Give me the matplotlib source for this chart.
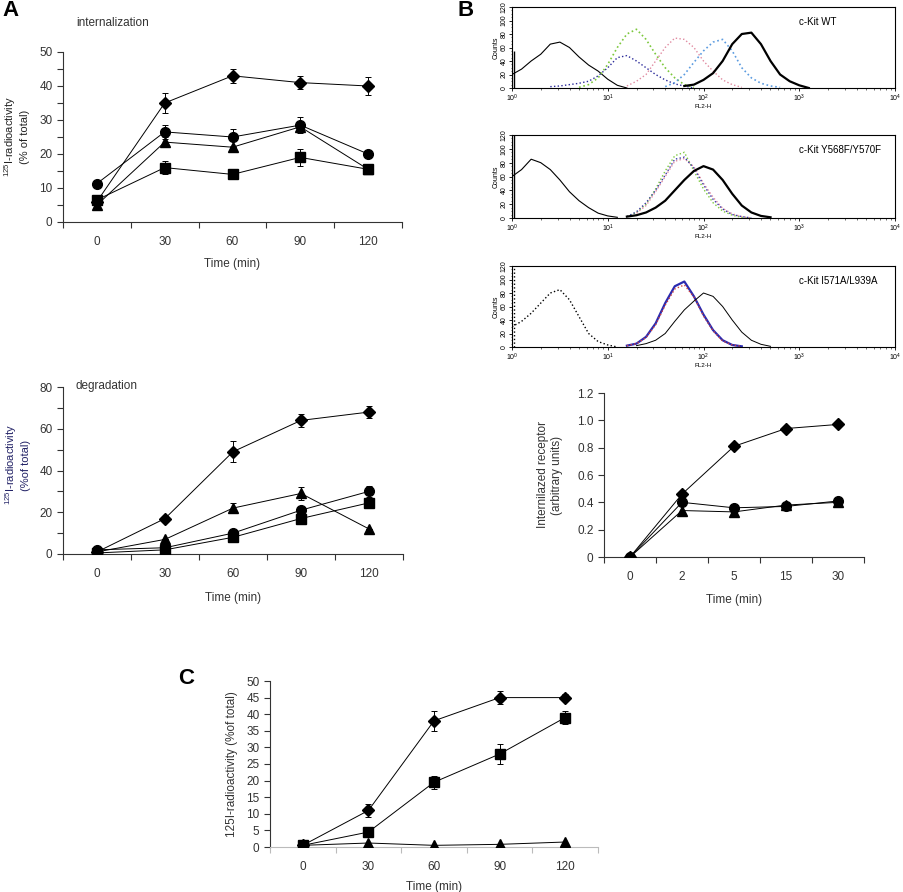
import numpy as np
import matplotlib.pyplot as plt

plt.rcParams['font.family'] = ['Liberation Sans', 'DejaVu Sans']
plt.rcParams['mathtext.default'] = 'regular'

# ---- panel A: internalization / degradation (% of total) ----
time_labels = ['0', '30', '60', '90', '120']

int_diamond = [6, 35, 43, 41, 40]
int_diamond_err = [0, 3, 2, 2, 2.7]
int_circle = [11.3, 26.5, 25, 28.5, 20]
int_circle_err = [0, 2, 2.5, 2.3, 0]
int_triangle = [5, 23.5, 22, 28, 15.5]
int_triangle_err = [0, 1.5, 0, 1.5, 0]
int_square = [6.5, 16, 14, 19, 15.5]
int_square_err = [1.5, 2, 0, 2.5, 1.5]

deg_diamond = [1, 17, 49, 64, 68]
deg_diamond_err = [0, 0, 5, 3, 3]
deg_triangle = [1, 7, 22, 29, 12]
deg_triangle_err = [0, 0, 2.5, 3, 0]
deg_circle = [2, 3, 10, 21, 30]
deg_circle_err = [0, 0, 0, 0, 2.5]
deg_square = [0.5, 2, 8, 17, 24.5]
deg_square_err = [0, 0, 0, 0, 2]

# ---- panel B: internalized receptor ----
b_time_labels = ['0', '2', '5', '15', '30']
b_diamond = [0, 0.46, 0.81, 0.94, 0.97]
b_circle = [0, 0.40, 0.36, 0.37, 0.41]
b_triangle = [0, 0.34, 0.33, 0.38, 0.40]

# ---- panel C ----
c_diamond = [0.5, 11, 38, 45, 45]
c_diamond_err = [0, 2, 3, 2, 1]
c_square = [0.5, 4.5, 19.5, 28, 39]
c_square_err = [0, 0, 2, 3, 2]
c_triangle = [0.5, 1.2, 0.5, 0.8, 1.5]

# ---- panel B flow histograms: counts read every 0.1 decade from start ----
wt_iso = (0.0, [20, 28, 40, 50, 65, 68, 60, 46, 34, 25, 13, 4, 0])
wt_dblue = (0.4, [2, 3, 5, 7, 10, 18, 30, 45, 48, 40, 30, 20, 12, 6, 3, 0])
wt_green = (0.7, [1, 5, 15, 35, 60, 80, 87, 72, 50, 30, 15, 5, 1])
wt_pink = (1.2, [3, 10, 20, 40, 60, 74, 72, 60, 40, 25, 12, 5, 1])
wt_lblue = (1.6, [2, 8, 20, 38, 55, 68, 72, 55, 30, 15, 7, 3, 1])
wt_main = (1.8, [3, 5, 12, 22, 40, 65, 80, 82, 65, 40, 20, 10, 4, 0])
wt_spike = 55

y5_iso = (0.0, [60, 70, 85, 80, 70, 55, 38, 25, 15, 7, 3, 1])
y5_green = (1.2, [2, 8, 20, 42, 68, 90, 95, 68, 42, 22, 10, 4, 1, 0])
y5_blue = (1.2, [2, 9, 22, 40, 62, 85, 88, 72, 48, 27, 13, 5, 2, 0])
y5_pink = (1.3, [7, 18, 38, 60, 82, 86, 74, 50, 30, 14, 6, 2, 0])
y5_main = (1.2, [2, 4, 8, 15, 25, 40, 55, 68, 75, 70, 55, 35, 18, 8, 3, 1])
y5_spike = 120

i5_iso = (0.0, [30, 38, 50, 65, 80, 85, 70, 45, 20, 8, 3, 0])
i5_blue = (1.2, [2, 5, 15, 35, 65, 90, 97, 75, 48, 25, 10, 3, 1])
i5_red = (1.2, [2, 5, 14, 33, 62, 86, 92, 74, 46, 24, 9, 3, 1])
i5_main = (1.3, [2, 5, 10, 20, 38, 55, 68, 80, 75, 60, 40, 22, 10, 4, 1])
i5_spike = 118

fig = plt.figure(figsize=(9.04, 8.92), dpi=100)
W, H = 904, 892


def add_ax(left, top, right, bottom):
    return fig.add_axes([left / W, 1 - bottom / H, (right - left) / W, (bottom - top) / H])


def category_axis(ax, labels, ymax, ymajor, yminor=None, yfmt=None):
    n = len(labels)
    ax.set_xlim(-0.5, n - 0.5)
    ax.set_ylim(0, ymax)
    ax.spines['top'].set_visible(False)
    ax.spines['right'].set_visible(False)
    for s in ['left', 'bottom']:
        ax.spines[s].set_linewidth(0.8)
        ax.spines[s].set_color('#333333')
    ax.set_xticks(np.arange(-0.5, n, 1.0))
    ax.set_xticklabels([])
    ax.set_xticks(np.arange(n), minor=True)
    ax.set_xticklabels(labels, minor=True)
    ax.tick_params(axis='x', which='major', direction='out', length=4, width=0.8, color='#333333')
    ax.tick_params(axis='x', which='minor', length=0, pad=10, labelsize=8.5, labelcolor='#333333')
    yt = np.arange(0, ymax + 1e-9, ymajor)
    ax.set_yticks(yt)
    if yfmt is not None:
        ax.set_yticklabels([yfmt(v) for v in yt])
    if yminor is not None:
        ax.set_yticks(np.arange(0, ymax + 1e-9, yminor), minor=True)
    ax.tick_params(axis='y', which='both', direction='out', length=4, width=0.8,
                   color='#333333', labelsize=8.5, labelcolor='#333333')


def series(ax, y, marker, ms, err=None):
    x = np.arange(len(y))
    ax.plot(x, y, color='black', lw=0.7, marker=marker, ms=ms, mfc='black', mec='black', zorder=3)
    if err is not None:
        ax.errorbar(x, y, yerr=err, fmt='none', ecolor='black', elinewidth=0.7, capsize=2.5,
                    capthick=0.7, zorder=2)


# ---------- A top ----------
ax1 = add_ax(63, 52, 402, 222)
category_axis(ax1, time_labels, 50, 10, 5)
series(ax1, int_diamond, 'D', 6, int_diamond_err)
series(ax1, int_circle, 'o', 7, int_circle_err)
series(ax1, int_triangle, '^', 7, int_triangle_err)
series(ax1, int_square, 's', 6.5, int_square_err)
fig.text(16 / W, 1 - 137 / H, '$^{125}$I-radioactivity\n(% of total)', fontsize=8, color='#222222',
         rotation=90, ha='center', va='center', multialignment='center')
ax1.set_xlabel('Time (min)', fontsize=8.5, color='#333333', labelpad=7)
fig.text(76 / W, 1 - 23 / H, 'internalization', fontsize=8.5, color='#333333', va='center')
fig.text(2 / W, 1 - 11 / H, 'A', fontsize=16, fontweight='bold', va='center')

# ---------- A bottom ----------
ax2 = add_ax(63, 387, 403, 554)
category_axis(ax2, time_labels, 80, 20, 10)
series(ax2, deg_diamond, 'D', 6, deg_diamond_err)
series(ax2, deg_triangle, '^', 7, deg_triangle_err)
series(ax2, deg_circle, 'o', 7, deg_circle_err)
series(ax2, deg_square, 's', 6.5, deg_square_err)
fig.text(17 / W, 1 - 465 / H, '$^{125}$I-radioactivity\n(%of total)', fontsize=8, color='#222266',
         rotation=90, ha='center', va='center', multialignment='center')
ax2.set_xlabel('Time (min)', fontsize=8.5, color='#333333', labelpad=9)
fig.text(76 / W, 1 - 386 / H, 'degradation', fontsize=8.5, color='#333333', va='center')

# ---------- B flow histograms ----------
def flow_panel(top, bottom, curves, spike, spike_ls, label):
    ax = add_ax(512, top, 895, bottom)
    ax.vlines(1.04, 0, spike, color='black', ls=spike_ls, lw=1.0)
    for (start, counts), color, ls, lw in curves:
        xs = 10 ** (start + 0.1 * np.arange(len(counts)))
        ax.plot(xs, counts, color=color, ls=ls, lw=lw)
    ax.set_xscale('log')
    ax.set_xlim(1, 1e4)
    ax.set_ylim(0, 120)
    ax.set_yticks(np.arange(0, 121, 20))
    ax.set_yticks(np.arange(0, 121, 5), minor=True)
    ax.tick_params(axis='y', which='major', labelsize=5, length=2, width=0.6, pad=1, labelrotation=90)
    ax.tick_params(axis='y', which='minor', length=1, width=0.4)
    ax.tick_params(axis='x', which='major', labelsize=5, length=2.5, width=0.6, pad=1)
    ax.tick_params(axis='x', which='minor', length=1.5, width=0.4)
    for t in ax.get_yticklabels():
        t.set_va('center')
    for s in ax.spines.values():
        s.set_linewidth(0.8)
    ax.set_ylabel('Counts', fontsize=5, labelpad=1)
    ax.set_xlabel('FL2-H', fontsize=4.5, labelpad=0)
    ax.text(0.75, 0.82, label, transform=ax.transAxes, fontsize=7, va='center')
    return ax


flow_panel(7, 88, [
    (wt_iso, 'black', '-', 0.8),
    (wt_dblue, '#2a2a9a', ':', 1.0),
    (wt_green, '#7cc83c', ':', 1.2),
    (wt_pink, '#e08aa0', ':', 1.0),
    (wt_lblue, '#5b9be0', ':', 1.2),
    (wt_main, 'black', '-', 1.6),
], wt_spike, '-', 'c-Kit WT')
fig.text(458 / W, 1 - 11 / H, 'B', fontsize=16, fontweight='bold', va='center')

flow_panel(135, 218, [
    (y5_iso, 'black', '-', 0.8),
    (y5_green, '#7cc83c', ':', 1.0),
    (y5_pink, '#e08aa0', ':', 1.0),
    (y5_blue, '#3a3aa8', ':', 1.0),
    (y5_main, 'black', '-', 1.6),
], y5_spike, '-', 'c-Kit Y568F/Y570F')

flow_panel(266, 347, [
    (i5_iso, 'black', ':', 1.0),
    (i5_blue, '#2a2ab0', '-', 1.6),
    (i5_red, '#d04040', ':', 1.0),
    (i5_main, 'black', '-', 0.7),
], i5_spike, ':', 'c-Kit I571A/L939A')

# ---------- B internalized receptor ----------
ax3 = add_ax(604, 393, 864, 557)
category_axis(ax3, b_time_labels, 1.2, 0.2,
              yfmt=lambda v: '0' if abs(v) < 1e-9 else '%.1f' % v)
series(ax3, b_diamond, 'D', 6)
series(ax3, b_triangle, '^', 7)
series(ax3, b_circle, 'o', 7)
ax3.set_ylabel('Internilazed receptor\n(arbitrary units)', fontsize=8.5, color='#333333', labelpad=10)
ax3.set_xlabel('Time (min)', fontsize=8.5, color='#333333', labelpad=8)

# ---------- C ----------
ax4 = add_ax(270, 681, 598, 847)
category_axis(ax4, time_labels, 50, 5)
ax4.spines['bottom'].set_color('#bbbbbb')
ax4.tick_params(axis='x', which='major', color='#bbbbbb')
series(ax4, c_diamond, 'D', 6, c_diamond_err)
series(ax4, c_square, 's', 6.5, c_square_err)
series(ax4, c_triangle, '^', 7)
ax4.tick_params(axis='x', which='minor', pad=10)
ax4.set_ylabel('125I-radioactivity (%of total)', fontsize=8.5, color='#333333', labelpad=6)
ax4.set_xlabel('Time (min)', fontsize=8.5, color='#333333', labelpad=6)
fig.text(178 / W, 1 - 679 / H, 'C', fontsize=16, fontweight='bold', va='center')

fig.savefig('out.png', dpi=100)
